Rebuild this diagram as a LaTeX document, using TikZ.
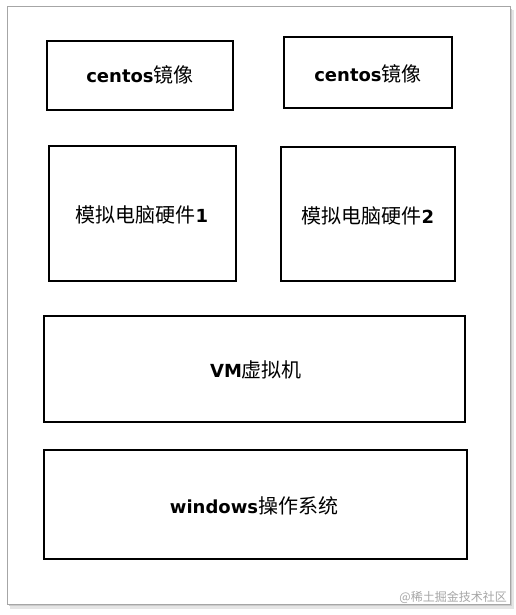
\documentclass[tikz,border=0pt]{standalone}
\usepackage{fontspec}
\setmainfont{DejaVu Sans}
\newfontfamily\cjk{Noto Sans CJK SC}
\newcommand{\zh}[1]{{\cjk\mdseries\fontsize{20}{22}\selectfont #1}}
\begin{document}
\begin{tikzpicture}[x=1pt,y=-1pt,
  layerbox/.style={draw=black,line width=2pt,fill=white},
  lbl/.style={font=\fontsize{18}{22}\selectfont\bfseries,inner sep=0pt}]
\useasboundingbox (0,0) rectangle (516,615);
\fill[white] (0,0) rectangle (516,615);
% shadow of frame
\fill[black!10] (10,10) rectangle (514,609);
\fill[black!20] (9,9) rectangle (512,606);
\draw[draw=black!35,fill=white,line width=1pt] (7,7) rectangle (510,604);
% boxes
\draw[layerbox] (47,41) rectangle (233,110);
\node[lbl] (c1) at (140,75) {centos\zh{镜像}};
\draw[layerbox] (284,37) rectangle (452,108);
\node[lbl] (c2) at (368,74) {centos\zh{镜像}};
\draw[layerbox] (49,146) rectangle (236,281);
\node[lbl] (h1) at (142,215) {\zh{模拟电脑硬件}1};
\draw[layerbox] (281,147) rectangle (455,281);
\node[lbl] (h2) at (368,216) {\zh{模拟电脑硬件}2};
\draw[layerbox] (44,316) rectangle (465,422);
\node[lbl] (vm) at (256,370) {VM\zh{虚拟机}};
\draw[layerbox] (44,450) rectangle (467,559);
\node[lbl] (win) at (254,506) {windows\zh{操作系统}};
% watermark
\node[font=\cjk\fontsize{12}{14}\selectfont,text=black!35,inner sep=0pt,anchor=east] (wm) at (507,597) {@稀土掘金技术社区};
\end{tikzpicture}
\end{document}
